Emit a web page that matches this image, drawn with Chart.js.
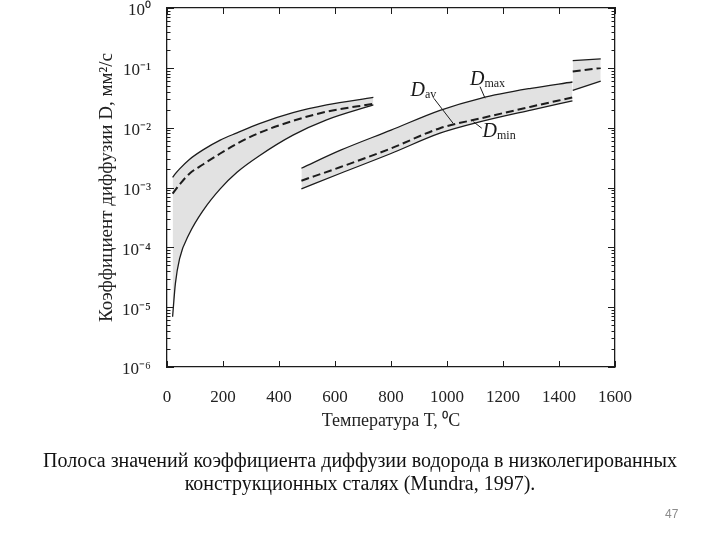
<!DOCTYPE html>
<html><head><meta charset="utf-8">
<script src="https://cdn.jsdelivr.net/npm/chart.js@4.4.1/dist/chart.umd.min.js"></script>
<style>
html,body{margin:0;padding:0;background:#fff;}
#wrap{position:relative;width:720px;height:540px;overflow:hidden;}
canvas{position:absolute;left:0;top:0;}
#cap{position:absolute;left:0;width:720px;top:449px;text-align:center;font-family:"Liberation Serif",serif;font-size:20px;line-height:23px;color:#111;}
#pg{position:absolute;left:665px;top:507px;font-family:"Liberation Sans",sans-serif;font-size:12px;color:#8c8c8c;}
</style></head><body>
<div id="wrap"><canvas id="c" width="720" height="540"></canvas>
<div id="cap">Полоса значений коэффициента диффузии водорода в низколегированных<br>конструкционных сталях (Mundra, 1997).</div>
<div id="pg">47</div></div>
<script>
// ---- data ----
const xTicks = [0, 200, 400, 600, 800, 1000, 1200, 1400, 1600];
const yTicks = [1e-6, 1e-5, 1e-4, 1e-3, 1e-2, 1e-1, 1];
const yTickLabels = ['10\u207B\u2076', '10\u207B\u2075', '10\u207B\u2074', '10\u207B\u00B3', '10\u207B\u00B2', '10\u207B\u00B9', '10\u2070'];

const ferriteT   = [20, 30, 45, 80, 130, 190, 250, 330, 450, 570, 737];
const ferriteMax = [1.48e-3, 1.7e-3, 2.05e-3, 2.95e-3, 4.3e-3, 6.2e-3, 8.2e-3, 1.17e-2, 1.78e-2, 2.4e-2, 3.2e-2];
const ferriteAv  = [7.9e-4, 9.1e-4, 1.12e-3, 1.7e-3, 2.45e-3, 3.7e-3, 5.4e-3, 8.2e-3, 1.3e-2, 1.85e-2, 2.5e-2];
const ferriteMin = [6.9e-6, 2.5e-5, 6.5e-5, 1.7e-4, 4.2e-4, 9.5e-4, 1.8e-3, 3.4e-3, 7.5e-3, 1.35e-2, 2.4e-2];

const austT   = [480, 620, 800, 975, 1120, 1300, 1448];
const austMax = [2.1e-3, 4.2e-3, 9.1e-3, 1.95e-2, 3.1e-2, 4.55e-2, 5.8e-2];
const austAv  = [1.3e-3, 2.2e-3, 4.5e-3, 9.8e-3, 1.43e-2, 2.24e-2, 3.2e-2];
const austMin = [9.5e-4, 1.73e-3, 3.7e-3, 8.1e-3, 1.26e-2, 1.97e-2, 2.8e-2];

const deltaT   = [1449, 1549];
const deltaMax = [0.132, 0.141];
const deltaAv  = [0.087, 0.099];
const deltaMin = [0.042, 0.060];

// curve labels (D with subscript) and their leader lines, in data units
const labelSubs = ['max', 'av', 'min'];
const labelT    = [1082, 870, 1127];
const labelD    = [0.0516, 0.0338, 0.00706];
const leadT0 = [1118, 953, 1094];
const leadD0 = [0.0484, 0.031, 0.0126];
const leadT1 = [1136, 1022, 1124];
const leadD1 = [0.031, 0.0118, 0.0098];

// ---- chart ----
const SERIF = '"Liberation Serif", "Times New Roman", serif';
const LINE = '#1c1c1c';
const FILL = '#e2e2e2';

function pts(T, V) { return T.map((t, i) => ({x: t, y: V[i]})); }
function band(T, mx, av, mn, base) {
  const common = {pointRadius: 0, borderColor: LINE, cubicInterpolationMode: 'monotone'};
  return [
    Object.assign({data: pts(T, mx), borderWidth: 1.3, fill: base + 2, backgroundColor: FILL}, common),
    Object.assign({data: pts(T, av), borderWidth: 2, borderDash: [8, 4], fill: false}, common),
    Object.assign({data: pts(T, mn), borderWidth: 1.3, fill: false}, common)
  ];
}
const datasets = [].concat(
  band(ferriteT, ferriteMax, ferriteAv, ferriteMin, 0),
  band(austT, austMax, austAv, austMin, 3),
  band(deltaT, deltaMax, deltaAv, deltaMin, 6)
);

const overlay = {
  id: 'overlay',
  afterDraw(chart) {
    const {ctx, chartArea: a} = chart;
    const x = chart.scales.x, y = chart.scales.y;
    ctx.save();
    ctx.strokeStyle = LINE;
    ctx.lineWidth = 1;
    const seg = (x0, y0, x1, y1) => { ctx.beginPath(); ctx.moveTo(x0, y0); ctx.lineTo(x1, y1); ctx.stroke(); };
    // inward ticks on x (bottom + top)
    xTicks.forEach(v => {
      const px = Math.round(x.getPixelForValue(v)) + 0.5;
      seg(px, a.bottom, px, a.bottom - 6);
      seg(px, a.top, px, a.top + 6);
    });
    // inward major + minor ticks on log y (left + right)
    yTicks.forEach((dec, k) => {
      for (let m = 1; m <= 9; m++) {
        if (m > 1 && k === yTicks.length - 1) break;
        const py = Math.round(y.getPixelForValue(m * dec)) + 0.5;
        const len = m === 1 ? 7 : 3.5;
        seg(a.left, py, a.left + len, py);
        seg(a.right, py, a.right - len, py);
      }
    });
    // leader lines
    labelSubs.forEach((s, i) => {
      seg(x.getPixelForValue(leadT0[i]), y.getPixelForValue(leadD0[i]),
          x.getPixelForValue(leadT1[i]), y.getPixelForValue(leadD1[i]));
    });
    // labels
    ctx.fillStyle = '#1a1a1a';
    ctx.textBaseline = 'alphabetic';
    ctx.textAlign = 'left';
    labelSubs.forEach((s, i) => {
      const px = x.getPixelForValue(labelT[i]);
      const py = y.getPixelForValue(labelD[i]);
      ctx.font = 'italic 20px ' + SERIF;
      ctx.fillText('D', px, py);
      const w = ctx.measureText('D').width;
      ctx.font = '12px ' + SERIF;
      ctx.fillText(s, px + w, py + 2);
    });
    ctx.restore();
  }
};

const borderOpt = {display: true, color: LINE, width: 1.3};
new Chart(document.getElementById('c'), {
  type: 'line',
  data: {datasets},
  plugins: [overlay],
  options: {
    responsive: false,
    animation: false,
    layout: {padding: {left: 96, top: 0, right: 0, bottom: 108}},
    plugins: {
      legend: {display: false},
      tooltip: {enabled: false},
      filler: {drawTime: 'beforeDatasetsDraw'}
    },
    scales: {
      x: {
        type: 'linear', position: 'bottom', min: 0, max: 1600,
        afterBuildTicks: s => { s.ticks = xTicks.map(v => ({value: v})); },
        ticks: {autoSkip: false, maxRotation: 0, padding: 12, color: '#222',
                font: {family: SERIF, size: 17}, callback: v => String(v)},
        grid: {display: false},
        border: borderOpt,
        title: {display: true, text: 'Температура T, \u2070C', color: '#222',
                font: {family: SERIF, size: 18}, padding: 0},
        afterFit: s => { s.height = 65; }
      },
      y: {
        type: 'logarithmic', position: 'left', min: 1e-6, max: 1,
        afterBuildTicks: s => { s.ticks = yTicks.map(v => ({value: v, major: true})); },
        ticks: {autoSkip: false, padding: 0, labelOffset: 3, color: '#222',
                font: {family: SERIF, size: 17, lineHeight: 0.9},
                callback: (v, i) => yTickLabels[i]},
        grid: {display: true, drawOnChartArea: false, drawTicks: true, tickLength: 16, tickColor: 'rgba(0,0,0,0)'},
        border: borderOpt,
        title: {display: true, text: 'Коэффициент диффузии D, мм\u00B2/с', color: '#222',
                font: {family: SERIF, size: 19}, padding: 0},
        afterFit: s => { s.width = 71; }
      },
      x2: {
        type: 'linear', position: 'top', min: 0, max: 1600,
        ticks: {display: false}, grid: {display: false}, border: borderOpt,
        afterFit: s => { s.height = 8; }
      },
      y2: {
        type: 'logarithmic', position: 'right', min: 1e-6, max: 1,
        ticks: {display: false}, grid: {display: false}, border: borderOpt,
        afterFit: s => { s.width = 105; }
      }
    }
  }
});
</script>
</body></html>
